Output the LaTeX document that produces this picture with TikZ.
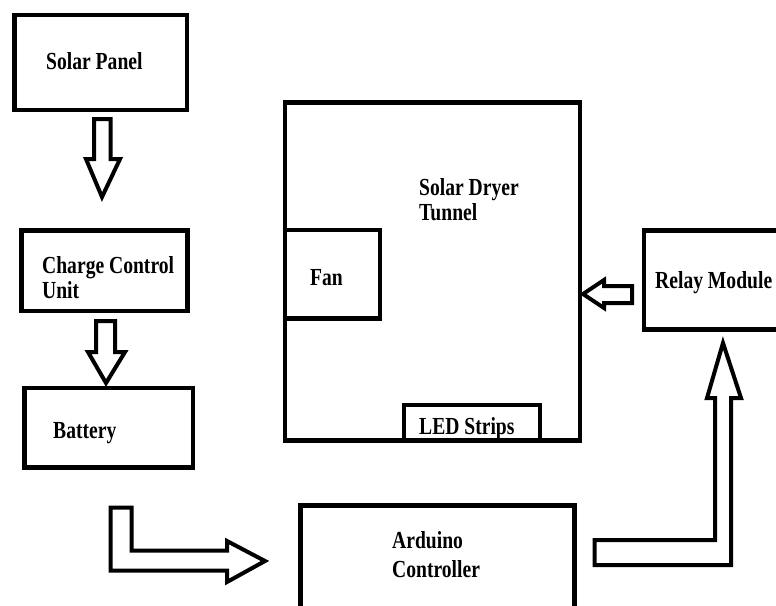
\documentclass[tikz,border=0pt]{standalone}
\usepackage{fontspec}
\setmainfont{Liberation Serif}[FakeStretch=0.8]
\begin{document}
\begin{tikzpicture}[x=1pt,y=-1pt,
  box/.style={draw=black,line width=4.5pt,inner sep=0pt,outer sep=0pt,fill=none},
  lbl/.style={anchor=base west,inner sep=0pt,font=\fontsize{24.5}{26}\selectfont\bfseries},
  blockarrow/.style={draw=black,line width=4pt,fill=white,line join=miter}]
\useasboundingbox (0,0) rectangle (776,605);
\clip (0,0) rectangle (776,605);
% boxes
\node[box,minimum width=172.5pt,minimum height=95pt] (solar) at (100.75,62.5) {};
\node[box,minimum width=166pt,minimum height=80.5pt] (charge) at (104.5,270.75) {};
\node[box,minimum width=168.5pt,minimum height=79.5pt] (battery) at (108.75,427.75) {};
\node[box,minimum width=295pt,minimum height=338pt] (tunnel) at (432.5,271.5) {};
\node[box,minimum width=95pt,minimum height=88.5pt] (fan) at (332.5,274.25) {};
\node[box,minimum width=136pt,minimum height=35.5pt] (led) at (472,422.75) {};
\node[box,minimum width=150pt,minimum height=99pt] (relay) at (719,280) {};
\node[box,minimum width=274pt,minimum height=130pt] (arduino) at (437.5,570.5) {};
% labels
\node[lbl] (tsolar) at (46,69) {Solar Panel};
\node[lbl] (tcharge1) at (42,273) {Charge Control};
\node[lbl] (tcharge2) at (42,298) {Unit};
\node[lbl] (tbattery) at (53,438) {Battery};
\node[lbl] (ttunnel1) at (419,195) {Solar Dryer};
\node[lbl] (ttunnel2) at (419,220) {Tunnel};
\node[lbl] (tfan) at (310,285) {Fan};
\node[lbl] (tled) at (419,434.5) {LED Strips};
\node[lbl] (trelay) at (655,288) {Relay Module};
\node[lbl] (tard1) at (392,548) {Arduino};
\node[lbl] (tard2) at (392,577) {Controller};
% block arrows
\draw[blockarrow] (94,119) -- (110.5,119) -- (110.5,159) -- (120,159) -- (102,197) -- (86,159) -- (94,159) -- cycle;
\draw[blockarrow] (96,321) -- (115,321) -- (115,352) -- (125,352) -- (106,383) -- (88,352) -- (96,352) -- cycle;
\draw[blockarrow] (110.5,507.5) -- (131.5,507.5) -- (131.5,550.5) -- (227,550.5) -- (227,541) -- (265,561) -- (227,582) -- (227,570.5) -- (110.5,570.5) -- cycle;
\draw[blockarrow] (632,286) -- (604,286) -- (604,280) -- (583,294) -- (604,308) -- (604,303) -- (632,303) -- cycle;
\draw[blockarrow] (594.5,540) -- (715,540) -- (715,398) -- (707,398) -- (723,343) -- (741,398) -- (731,398) -- (731,565) -- (594.5,565) -- cycle;
\end{tikzpicture}
\end{document}
